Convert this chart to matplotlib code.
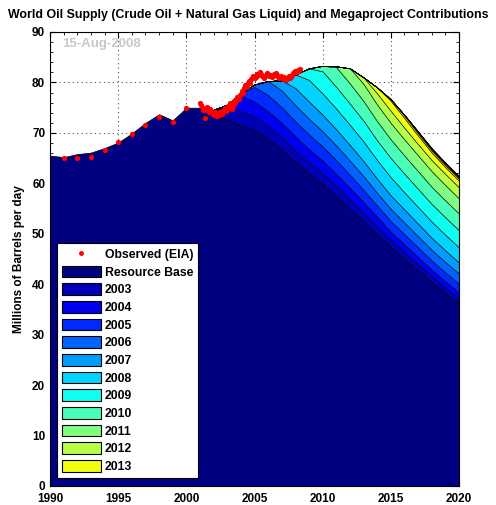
import numpy as np
import matplotlib
matplotlib.use("Agg")
import matplotlib.pyplot as plt
from matplotlib.patches import Patch
from matplotlib.lines import Line2D
from matplotlib.ticker import MultipleLocator

plt.rcParams['font.family'] = ['Liberation Sans', 'DejaVu Sans']
plt.rcParams['font.weight'] = 'bold'

# resource base (Mb/d), yearly 1990-2020
base_years = list(range(1990, 2021))
base = [65.5, 65.2, 65.8, 66.1, 67.0, 68.1, 69.9, 72.0, 73.7, 72.5,
        75.0, 75.0, 74.0, 72.6, 71.6, 70.6, 68.9, 66.8, 64.3, 62.0,
        59.9, 57.5, 55.0, 52.5, 50.0, 47.4, 45.1, 42.8, 40.5, 38.3, 36.2]

# megaproject contributions by start year, yearly 2002-2020
layer_years = list(range(2002, 2021))
layer_names = ['2003', '2004', '2005', '2006', '2007', '2008', '2009', '2010',
               '2011', '2012', '2013', '2014', '2015', '2016', '2017', '2018', '2019']
mp2003 = [0.6, 2.4, 2.7, 2.6, 2.5, 2.4, 2.3, 2.2, 2.1, 2.0, 1.9, 1.8, 1.6, 1.4, 1.3, 1.2, 1.1, 1.05, 1.0]
mp2004 = [0, 0.6, 3.1, 3.0, 2.9, 2.8, 2.7, 2.6, 2.5, 2.4, 2.2, 2.0, 1.8, 1.6, 1.5, 1.4, 1.3, 1.25, 1.2]
mp2005 = [0, 0, 0.6, 2.9, 3.2, 3.1, 3.0, 2.9, 2.8, 2.7, 2.6, 2.4, 2.2, 2.1, 2.0, 1.9, 1.8, 1.75, 1.7]
mp2006 = [0, 0, 0, 0.5, 2.8, 3.3, 3.2, 3.1, 3.0, 2.9, 2.8, 2.7, 2.5, 2.4, 2.3, 2.2, 2.1, 2.05, 2.0]
mp2007 = [0, 0, 0, 0, 0, 2.0, 3.4, 3.4, 3.3, 3.2, 3.1, 3.0, 2.8, 2.7, 2.6, 2.5, 2.4, 2.3, 2.2]
mp2008 = [0, 0, 0, 0, 0, 0, 2.7, 4.3, 4.2, 4.1, 4.0, 3.9, 3.7, 3.6, 3.4, 3.3, 3.2, 3.1, 3.0]
mp2009 = [0, 0, 0, 0, 0, 0, 0, 2.3, 4.4, 4.3, 4.2, 4.1, 3.9, 3.8, 3.7, 3.6, 3.5, 3.45, 3.4]
mp2010 = [0, 0, 0, 0, 0, 0, 0, 0, 1.1, 3.9, 4.0, 3.9, 3.8, 3.7, 3.6, 3.5, 3.4, 3.35, 3.3]
mp2011 = [0, 0, 0, 0, 0, 0, 0, 0, 0, 0.2, 3.0, 3.4, 3.3, 3.25, 3.2, 3.15, 3.1, 3.05, 3.0]
mp2012 = [0, 0, 0, 0, 0, 0, 0, 0, 0, 0, 0, 1.3, 2.2, 2.4, 2.3, 2.2, 2.2, 2.2, 2.2]
mp2013 = [0, 0, 0, 0, 0, 0, 0, 0, 0, 0, 0, 0, 1.2, 2.0, 1.9, 1.7, 1.5, 1.35, 1.3]
mp2014 = [0, 0, 0, 0, 0, 0, 0, 0, 0, 0, 0, 0, 0, 0.3, 0.5, 0.45, 0.4, 0.4, 0.4]
mp2015 = [0, 0, 0, 0, 0, 0, 0, 0, 0, 0, 0, 0, 0, 0, 0.15, 0.25, 0.25, 0.25, 0.25]
mp2016 = [0, 0, 0, 0, 0, 0, 0, 0, 0, 0, 0, 0, 0, 0, 0, 0.1, 0.12, 0.12, 0.12]
mp2017 = [0, 0, 0, 0, 0, 0, 0, 0, 0, 0, 0, 0, 0, 0, 0, 0, 0.06, 0.08, 0.08]
mp2018 = [0, 0, 0, 0, 0, 0, 0, 0, 0, 0, 0, 0, 0, 0, 0, 0, 0, 0.05, 0.05]
mp2019 = [0, 0, 0, 0, 0, 0, 0, 0, 0, 0, 0, 0, 0, 0, 0, 0, 0, 0, 0.04]
layers = [mp2003, mp2004, mp2005, mp2006, mp2007, mp2008, mp2009, mp2010, mp2011,
          mp2012, mp2013, mp2014, mp2015, mp2016, mp2017, mp2018, mp2019]

# observed EIA data: annual 1991-2000, monthly from Jan 2001
obs_annual_years = [1991, 1992, 1993, 1994, 1995, 1996, 1997, 1998, 1999, 2000]
obs_annual = [65.1, 65.1, 65.3, 66.6, 68.1, 69.7, 71.6, 73.2, 72.2, 74.9]
obs_monthly = [76.0, 75.6, 75.2, 74.5, 73.0, 74.6, 75.1, 74.6, 74.2, 74.8, 74.4, 74.0,
               73.6, 74.2, 73.8, 73.4, 73.9, 73.5, 74.1, 73.8, 74.3, 74.6, 75.0, 74.4,
               74.6, 75.4, 75.9, 75.2, 74.8, 75.3, 76.3, 76.0, 76.6, 77.1, 76.8, 77.5,
               77.8, 78.3, 78.0, 78.9, 79.4, 79.0, 79.8, 80.3, 79.9, 80.6, 80.9, 81.2,
               80.8, 81.1, 81.6, 81.4, 81.9, 82.0, 81.6, 81.3, 80.9, 81.2, 81.5, 81.8,
               81.6, 81.3, 81.5, 81.0, 81.3, 81.7, 81.4, 81.8, 81.5, 81.1, 80.8, 81.2,
               80.9, 80.6, 81.0, 80.7, 80.5, 80.9, 81.2, 80.8, 81.1, 81.5, 81.9, 82.0,
               82.2, 82.1, 82.4, 82.3, 82.6]
obs_monthly_years = 2001 + np.arange(len(obs_monthly)) / 12.0


def matlab_jet(n):
    x = np.linspace(0, 1, n)
    r = np.clip(1.5 - np.abs(4 * x - 3), 0, 1)
    g = np.clip(1.5 - np.abs(4 * x - 2), 0, 1)
    b = np.clip(1.5 - np.abs(4 * x - 1), 0, 1)
    return np.column_stack([r, g, b])


colors = matlab_jet(19)

fig = plt.figure(figsize=(4.96, 5.05), dpi=100)
ax = fig.add_axes([50 / 496, 19 / 505, 409 / 496, 454 / 505])

ax.fill_between(base_years, 0, base, facecolor=colors[0], edgecolor='black', lw=0.5, zorder=2)
lower = np.array(base[base_years.index(2002):], dtype=float)
for i, lay in enumerate(layers):
    upper = lower + np.array(lay)
    ax.fill_between(layer_years, lower, upper, facecolor=colors[i + 1],
                    edgecolor='black', lw=0.4, zorder=2)
    lower = upper

ax.plot(obs_annual_years, obs_annual, '.', color='red', ms=5.5, zorder=3)
ax.plot(obs_monthly_years, obs_monthly, '.', color='red', ms=5.5, zorder=3)

ax.set_xlim(1990, 2020)
ax.set_ylim(0, 90)
ax.xaxis.set_major_locator(MultipleLocator(5))
ax.yaxis.set_major_locator(MultipleLocator(10))
ax.xaxis.set_minor_locator(MultipleLocator(1))
ax.yaxis.set_minor_locator(MultipleLocator(2))
ax.tick_params(which='both', direction='in', top=True, right=True, labelsize=8.5)
ax.tick_params(which='major', length=4)
ax.tick_params(which='minor', length=2)
ax.tick_params(axis='x', pad=5)
ax.grid(True, which='major', linestyle=(0, (1, 3)), color='#505050', lw=0.8, zorder=0)
ax.set_axisbelow(True)

fig.text(0.501, 1 - 15 / 505, 'World Oil Supply (Crude Oil + Natural Gas Liquid) and Megaproject Contributions',
         fontsize=8.9, fontweight='bold', ha='center', va='center')
ax.set_ylabel('Millions of Barrels per day', fontsize=8.5, fontweight='bold', labelpad=5)
ax.text(1990.9, 87.1, '15-Aug-2008', color='#c8c8c8', fontsize=9.5, fontweight='bold')

handles = [Line2D([], [], marker='.', color='red', ls='none', ms=5)]
labels = ['Observed (EIA)', 'Resource Base'] + layer_names[:11]
handles += [Patch(facecolor=colors[i], edgecolor='black', lw=0.8) for i in range(12)]
leg = ax.legend(handles, labels, loc='lower left', bbox_to_anchor=(0.017, 0.018),
                borderaxespad=0, fontsize=8.8, frameon=True, fancybox=False,
                edgecolor='black', framealpha=1, handlelength=3.2, handleheight=1.1,
                labelspacing=0.38, handletextpad=0.3, borderpad=0.4)
leg.get_frame().set_linewidth(0.8)

fig.savefig('out.png', dpi=100)
